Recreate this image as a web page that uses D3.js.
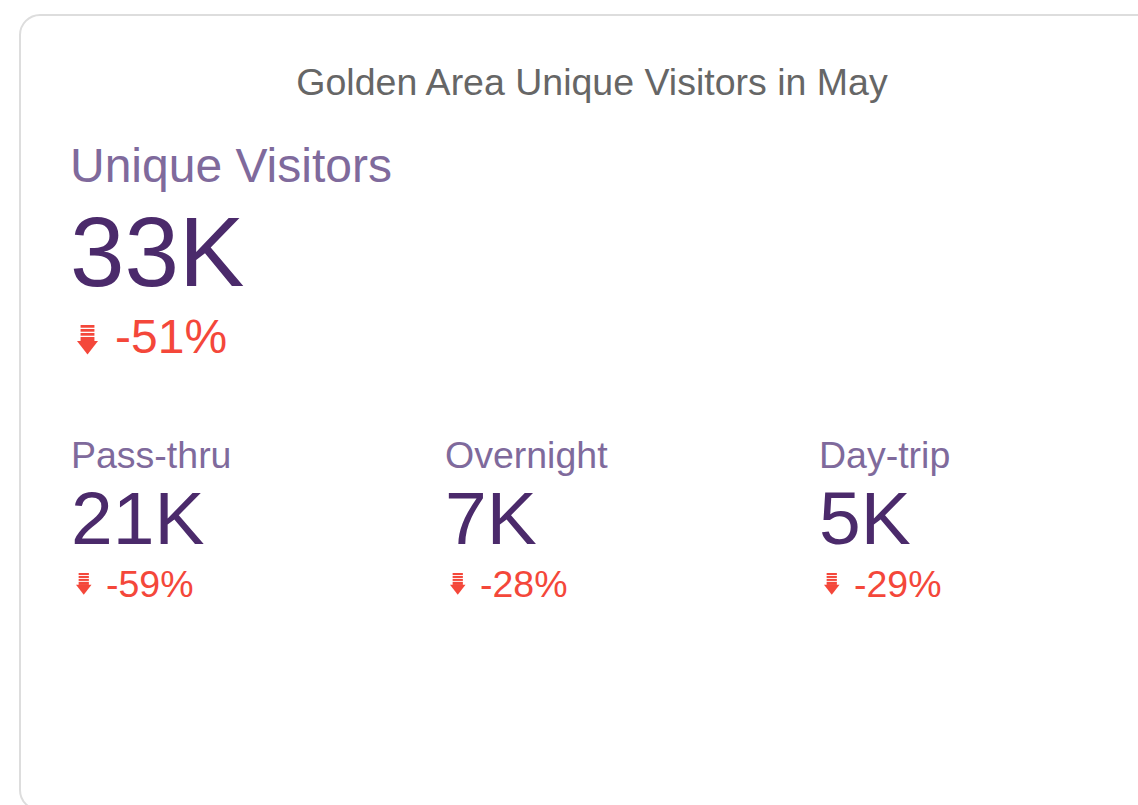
<!DOCTYPE html>
<html>
<head>
<meta charset="utf-8">
<script src="https://cdn.jsdelivr.net/npm/d3@7"></script>
<style>
  html, body { margin: 0; padding: 0; background: #fff; }
  svg { display: block; font-family: Arial, "Liberation Sans", sans-serif; }
</style>
</head>
<body>
<svg id="chart" width="1138" height="805"></svg>
<script>
const title = "Golden Area Unique Visitors in May";
const totalLabel = "Unique Visitors";
const totalValue = 33;      // thousands
const totalChange = -51;    // percent
const categories = ["Pass-thru", "Overnight", "Day-trip"];
const values = [21, 7, 5];          // thousands
const changes = [-59, -28, -29];    // percent

(function () {
const svg = d3.select("#chart");

const colLabel = "#7f6a9c";
const colValue = "#4b2a6b";
const colDown = "#f4473a";
const colTitle = "#666666";

const loc = d3.formatLocale({ decimal: ".", thousands: ",", grouping: [3], currency: ["", ""], minus: "-" });
const fmtK = v => loc.format("d")(v) + "K";
const fmtPct = v => loc.format("d")(v) + "%";

// card
svg.append("rect")
  .attr("x", 20).attr("y", 15)
  .attr("width", 1150).attr("height", 795)
  .attr("rx", 20).attr("ry", 20)
  .attr("fill", "#fff")
  .attr("stroke", "#dddddd").attr("stroke-width", 2);

svg.append("text")
  .attr("x", 592).attr("y", 95)
  .attr("text-anchor", "middle")
  .attr("font-size", 37.5)
  .attr("fill", colTitle)
  .text(title);

// down-arrow icon (three bars + arrow), drawn in unit box 0..1 wide, 0..1.4 tall
function arrowIcon(g, x, y, s) {
  const ic = g.append("g").attr("transform", `translate(${x},${y}) scale(${s})`).attr("fill", colDown);
  const bars = [0, 0.19, 0.38];
  ic.selectAll("rect.bar").data(bars).enter().append("rect")
    .attr("class", "bar")
    .attr("x", 0.17).attr("y", d => d)
    .attr("width", 0.66).attr("height", 0.13);
  ic.append("rect").attr("x", 0.17).attr("y", 0.57).attr("width", 0.66).attr("height", 0.2);
  ic.append("path").attr("d", "M0,0.76 L1,0.76 L0.5,1.4 Z");
}

// headline block
const head = svg.append("g");
head.append("text").attr("x", 70).attr("y", 182)
  .attr("font-size", 48).attr("fill", colLabel).text(totalLabel);
head.append("text").attr("x", 70).attr("y", 286)
  .attr("font-size", 98).attr("fill", colValue).text(fmtK(totalValue));
arrowIcon(head, 77, 325, 21);
head.append("text").attr("x", 115).attr("y", 353)
  .attr("font-size", 48).attr("fill", colDown).text(fmtPct(totalChange));

// breakdown columns
const x = d3.scaleBand().domain(categories).range([71, 71 + 374 * 3]).paddingInner(0).paddingOuter(0);
const rows = categories.map((c, i) => ({ c, v: values[i], p: changes[i] }));
const cols = svg.selectAll("g.col").data(rows).enter().append("g")
  .attr("class", "col")
  .attr("transform", d => `translate(${x(d.c)},0)`);

cols.append("text").attr("x", 0).attr("y", 468)
  .attr("font-size", 37.5).attr("fill", colLabel).text(d => d.c);
cols.append("text").attr("x", 0).attr("y", 544)
  .attr("font-size", 75).attr("fill", colValue).text(d => fmtK(d.v));
cols.each(function() { arrowIcon(d3.select(this), 5, 573, 15.5); });
cols.append("text").attr("x", 35).attr("y", 597)
  .attr("font-size", 37.5).attr("fill", colDown).text(d => fmtPct(d.p));
})();
</script>
</body>
</html>
